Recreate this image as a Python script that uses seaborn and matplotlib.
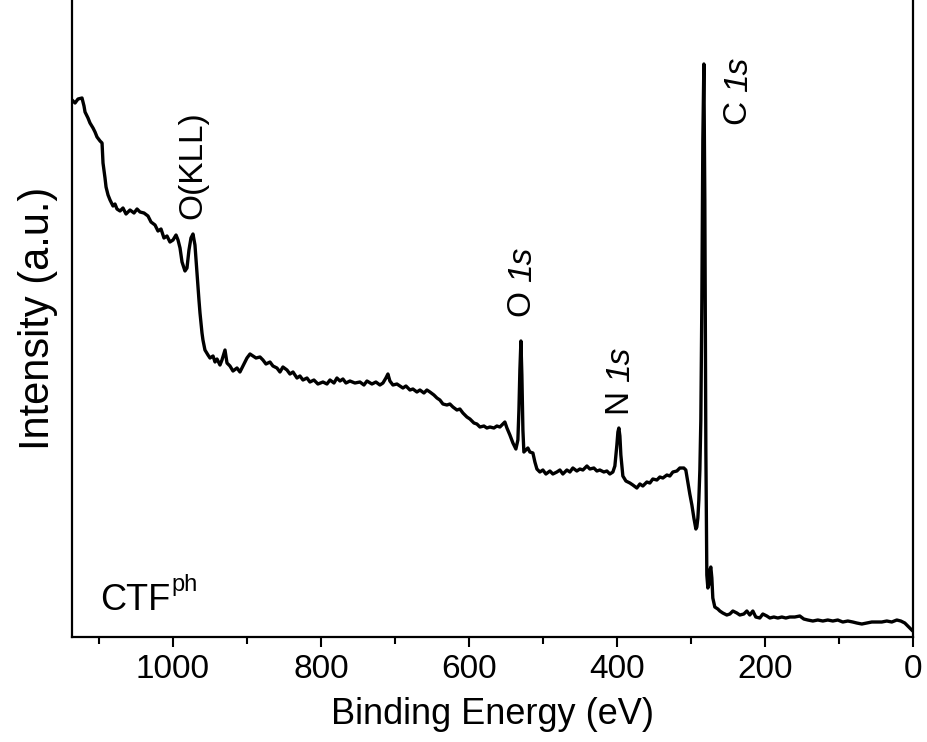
import numpy as np
import pandas as pd
import matplotlib
matplotlib.use("Agg")
import matplotlib.pyplot as plt
import seaborn as sns

# XPS survey spectrum of CTF-ph
binding_energy = [
    1136.5, 1132.4, 1128.4, 1123.0, 1120.3, 1118.9, 1114.9, 1112.2, 1108.1, 1105.4,
    1102.7, 1098.6, 1095.9, 1094.6, 1091.9, 1090.5, 1087.8, 1085.1, 1081.1, 1078.4,
    1075.7, 1071.6, 1067.6, 1063.5, 1058.1, 1052.7, 1048.6, 1044.6, 1039.2, 1033.8,
    1029.7, 1024.3, 1020.3, 1016.2, 1012.2, 1008.1, 1004.1, 1000.0, 995.9, 993.2,
    990.5, 987.8, 983.8, 981.1, 978.4, 975.7, 973.0, 970.3, 967.6, 964.9,
    963.5, 960.8, 959.5, 956.8, 952.7, 950.0, 945.9, 943.2, 940.5, 936.5,
    933.8, 929.7, 927.0, 923.0, 918.9, 913.5, 909.5, 905.4, 900.0, 895.9,
    891.9, 887.8, 882.4, 878.4, 874.3, 868.9, 864.9, 859.5, 855.4, 851.4,
    845.9, 841.9, 837.8, 832.4, 828.4, 824.3, 818.9, 814.9, 809.5, 804.1,
    797.3, 791.9, 787.8, 782.4, 778.4, 774.3, 770.3, 766.2, 760.8, 754.1,
    747.3, 741.9, 737.8, 731.1, 725.7, 720.3, 716.2, 712.2, 709.5, 706.8,
    702.7, 697.3, 693.2, 689.2, 685.1, 679.7, 675.7, 670.3, 666.2, 660.8,
    656.8, 652.7, 647.3, 643.2, 639.2, 635.1, 629.7, 625.7, 621.6, 616.2,
    612.2, 608.1, 602.7, 598.6, 593.2, 589.2, 585.1, 579.7, 575.7, 571.6,
    566.2, 562.2, 558.1, 554.1, 551.4, 548.6, 544.6, 540.5, 536.5, 533.8,
    532.4, 531.1, 529.7, 528.4, 527.0, 525.7, 523.0, 520.3, 517.6, 513.5,
    510.8, 508.1, 504.1, 500.0, 495.9, 490.5, 486.5, 481.1, 477.0, 473.0,
    467.6, 463.5, 459.5, 454.1, 450.0, 445.9, 440.5, 436.5, 431.1, 427.0,
    423.0, 417.6, 413.5, 409.5, 405.4, 402.7, 400.0, 398.6, 397.3, 395.9,
    394.6, 391.9, 387.8, 382.4, 378.4, 373.0, 368.9, 364.9, 359.5, 355.4,
    351.4, 345.9, 341.9, 337.8, 332.4, 328.4, 324.3, 318.9, 314.9, 309.5,
    306.8, 304.1, 301.4, 298.6, 295.9, 293.2, 291.9, 290.5, 289.2, 287.8,
    286.5, 285.1, 283.8, 282.4, 281.1, 279.7, 278.4, 277.0, 275.7, 274.3,
    273.0, 271.6, 270.3, 267.6, 263.5, 260.8, 256.8, 251.4, 247.3, 243.2,
    237.8, 233.8, 228.4, 224.3, 220.3, 216.2, 212.2, 206.8, 202.7, 197.3,
    193.2, 187.8, 182.4, 177.0, 171.6, 166.2, 159.5, 152.7, 147.3, 141.9,
    135.1, 128.4, 121.6, 114.9, 108.1, 101.4, 94.6, 87.8, 81.1, 75.7,
    68.9, 62.2, 55.4, 48.6, 41.9, 35.1, 28.4, 21.6, 16.2, 10.8,
    5.4, 0.0,
]
intensity = [
    537, 534, 538, 539, 531, 525, 519, 514, 509, 505,
    500, 496, 494, 474, 459, 450, 442, 437, 431, 433,
    428, 426, 429, 423, 427, 424, 428, 425, 424, 421,
    415, 412, 406, 408, 399, 401, 395, 397, 402, 397,
    389, 375, 366, 369, 387, 399, 403, 392, 364, 337,
    324, 304, 297, 287, 282, 279, 281, 275, 278, 272,
    277, 287, 274, 271, 266, 269, 265, 271, 279, 283,
    281, 279, 280, 277, 273, 275, 271, 269, 265, 270,
    267, 263, 265, 259, 261, 257, 259, 255, 257, 253,
    255, 253, 257, 254, 259, 256, 258, 254, 256, 254,
    255, 252, 256, 253, 255, 252, 254, 259, 263, 256,
    252, 253, 251, 249, 251, 247, 248, 245, 247, 244,
    247, 245, 242, 239, 237, 233, 232, 233, 230, 227,
    228, 224, 220, 218, 214, 213, 210, 211, 209, 210,
    209, 211, 210, 213, 215, 209, 202, 194, 188, 197,
    227, 267, 296, 262, 207, 185, 187, 189, 185, 184,
    175, 168, 165, 167, 163, 166, 163, 165, 167, 163,
    167, 165, 169, 166, 168, 167, 171, 168, 169, 166,
    167, 165, 166, 163, 165, 171, 192, 205, 209, 201,
    182, 161, 156, 154, 152, 149, 153, 151, 155, 154,
    158, 157, 160, 159, 162, 161, 165, 166, 169, 169,
    167, 155, 143, 132, 119, 108, 110, 119, 137, 167,
    217, 337, 497, 573, 437, 187, 62, 49, 52, 67,
    70, 59, 39, 30, 28, 26, 24, 22, 23, 26,
    24, 22, 23, 26, 22, 26, 20, 19, 23, 21,
    19, 20, 19, 20, 19, 20, 20, 21, 18, 17,
    16, 17, 16, 17, 16, 17, 15, 16, 15, 14,
    13, 14, 15, 15, 15, 16, 15, 17, 16, 14,
    10, 6,
]

peak_elements = ["O(KLL)", "O", "N", "C"]
peak_orbitals = ["", "1s", "1s", "1s"]
peak_energy = [973, 527, 395, 236]
peak_label_y = [418, 320, 222, 512]

df = pd.DataFrame({"Binding Energy (eV)": binding_energy, "Intensity": intensity})

sns.set_style("ticks")
plt.rcParams["font.family"] = ["Liberation Sans", "DejaVu Sans"]
plt.rcParams["text.color"] = "black"
plt.rcParams["axes.labelcolor"] = "black"
plt.rcParams["axes.edgecolor"] = "black"
plt.rcParams["xtick.color"] = "black"
plt.rcParams["xtick.labelcolor"] = "black"

fig = plt.figure(figsize=(9.28, 7.42), dpi=100)
ax = fig.add_axes([0.0776, 0.1415, 0.906, 0.8585])

sns.lineplot(data=df, x="Binding Energy (eV)", y="Intensity", ax=ax,
             color="black", linewidth=2.4, estimator=None, sort=False)

ax.set_xlim(1136.5, 0)
ax.set_ylim(0, 637)
ax.set_xticks([1000, 800, 600, 400, 200, 0])
ax.set_xticks([1100, 900, 700, 500, 300, 100], minor=True)
ax.set_yticks([])
ax.tick_params(axis="x", which="major", direction="out", length=7, width=1.5,
               labelsize=24, pad=5)
ax.tick_params(axis="x", which="minor", direction="out", length=5, width=1.5)
for side in ["left", "right", "bottom"]:
    ax.spines[side].set_linewidth(1.6)
ax.spines["top"].set_visible(False)

ax.set_xlabel("Binding Energy (eV)", fontsize=26, labelpad=9)
ax.set_ylabel("Intensity (a.u.)", fontsize=30, labelpad=10)

# peak labels: element upright, orbital in italics, both rotated
for elem, orb, xe, ye in zip(peak_elements, peak_orbitals, peak_energy, peak_label_y):
    t = ax.text(xe, ye, elem + (" " if orb else ""), rotation=90,
                ha="center", va="bottom", fontsize=24)
    if orb:
        fig.canvas.draw()
        bb = t.get_window_extent()
        x_disp, _ = ax.transData.transform((xe, ye))
        ax.annotate(orb, xy=(x_disp, bb.y1), xycoords="figure pixels",
                    rotation=90, ha="center", va="bottom", fontsize=24,
                    style="italic")

ax.text(0.033, 0.042, "CTF", transform=ax.transAxes,
        fontsize=26, ha="left", va="baseline")
ax.text(0.118, 0.072, "ph", transform=ax.transAxes,
        fontsize=17, ha="left", va="baseline")

fig.savefig("out.png", dpi=100)
